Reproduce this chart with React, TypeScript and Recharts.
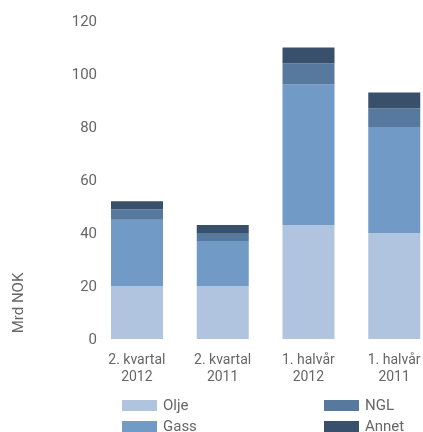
import { Bar, BarChart, Legend, XAxis, YAxis } from 'recharts';

const categories = ['2. kvartal 2012', '2. kvartal 2011', '1. halvår 2012', '1. halvår 2011'];
const seriesNames = ['Olje', 'Gass', 'NGL', 'Annet'];
const olje = [20, 20, 43, 40];
const gass = [25, 17, 53, 40];
const ngl = [4, 3, 8, 7];
const annet = [3, 3, 6, 6];
const yTicks = [0, 20, 40, 60, 80, 100, 120];

const data = categories.map((name, i) => ({
  name,
  olje: olje[i],
  gass: gass[i],
  ngl: ngl[i],
  annet: annet[i],
}));

const FONT = 'Roboto, sans-serif';
const GREY = '#666';

const CategoryTick = ({ x, y, payload }: any) => {
  const label: string = payload.value;
  const cut = label.lastIndexOf(' ');
  return (
    <text x={x} y={y} textAnchor="middle" fill={GREY} fontSize={14} fontFamily={FONT}>
      <tspan x={x} dy={25}>{label.slice(0, cut)}</tspan>
      <tspan x={x} dy={16.7}>{label.slice(cut + 1)}</tspan>
    </text>
  );
};

// stacked bars hand the legend its entries top-down, so put them back in series order
const LegendBox = ({ payload }: any) => {
  const items = [...(payload || [])].sort(
    (a: any, b: any) => seriesNames.indexOf(a.value) - seriesNames.indexOf(b.value)
  );
  return (
    <div
      style={{
        display: 'grid',
        gridAutoFlow: 'column',
        gridTemplateRows: 'repeat(2, 11px)',
        gridTemplateColumns: '202px 100px',
        rowGap: 9.7,
        fontFamily: FONT,
        fontSize: 15,
        color: GREY,
      }}
    >
      {items.map((p: any) => (
        <div key={p.value} style={{ display: 'flex', alignItems: 'center', height: 11 }}>
          <span style={{ width: 35, height: 11, background: p.color, marginRight: 6 }} />
          <span style={{ lineHeight: '11px' }}>{p.value}</span>
        </div>
      ))}
    </div>
  );
};

export default function App() {
  return (
    <div
      style={{
        position: 'fixed',
        top: 0,
        left: 0,
        width: 423,
        height: 432,
        padding: 8,
        boxSizing: 'border-box',
        overflow: 'hidden',
      }}
    >
      <style>{'html, body { overflow: hidden; }'}</style>
      <BarChart
        width={440}
        height={424}
        data={data}
        margin={{ top: 13, right: 11, bottom: 63, left: 0 }}
        barSize={52}
      >
        <XAxis
          dataKey="name"
          axisLine={false}
          tickLine={false}
          tickSize={0}
          tickMargin={0}
          height={30}
          interval={0}
          tick={<CategoryTick />}
        />
        <YAxis
          width={86}
          domain={[0, 120]}
          ticks={yTicks}
          axisLine={false}
          tickLine={false}
          tickSize={0}
          tickMargin={-3}
          tick={{ fill: GREY, fontSize: 15, fontFamily: FONT }}
          label={() => (
            <text
              x={10}
              y={295}
              transform="rotate(-90 10 295)"
              textAnchor="middle"
              dominantBaseline="central"
              fill={GREY}
              fontSize={15}
              fontFamily={FONT}
            >
              Mrd NOK
            </text>
          )}
        />
        <Legend
          layout="horizontal"
          verticalAlign="middle"
          align="center"
          wrapperStyle={{ top: 392, left: 114, width: 320 }}
          content={<LegendBox />}
        />
        <Bar dataKey="olje" name="Olje" stackId="a" fill="#B0C4DF" isAnimationActive={false} />
        <Bar dataKey="gass" name="Gass" stackId="a" fill="#719AC7" isAnimationActive={false} />
        <Bar dataKey="ngl" name="NGL" stackId="a" fill="#58799E" isAnimationActive={false} />
        <Bar dataKey="annet" name="Annet" stackId="a" fill="#38506B" isAnimationActive={false} />
      </BarChart>
    </div>
  );
}
